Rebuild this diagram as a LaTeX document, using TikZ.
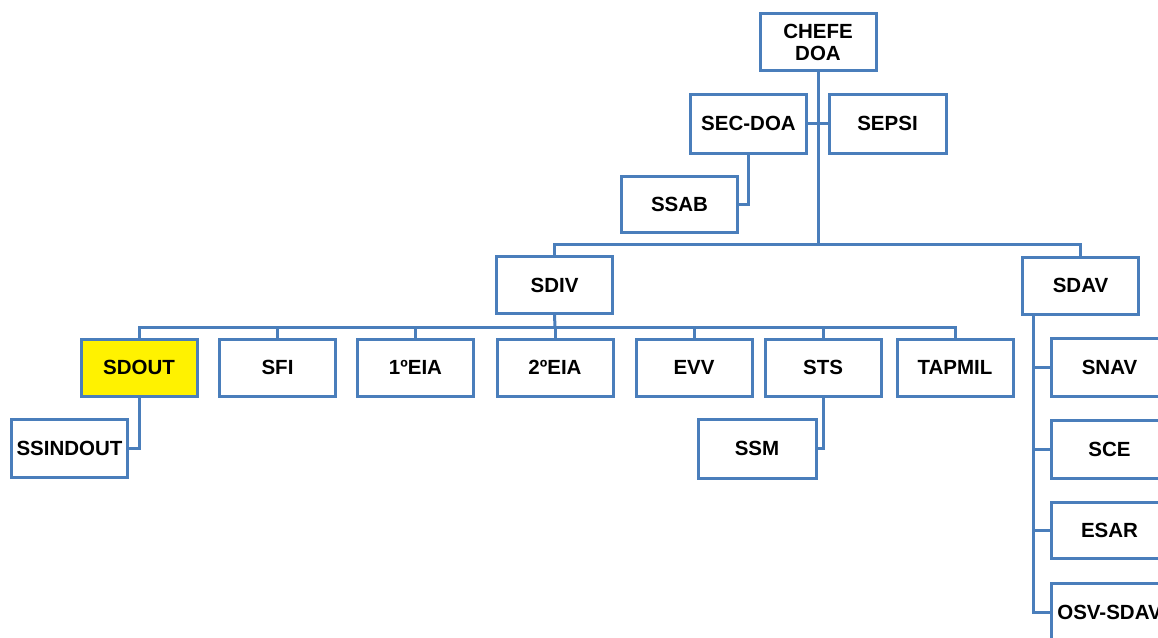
\documentclass[tikz,border=0pt]{standalone}
\usepackage{fontspec}
\setmainfont{Liberation Sans}
\usetikzlibrary{calc}
\definecolor{orgline}{HTML}{4A7EBB}
\definecolor{orgyellow}{HTML}{FFF200}
\tikzset{
  unit/.style={draw=orgline, line width=3pt, fill=white, minimum width=116pt,
    minimum height=57pt, inner sep=0pt, align=center,
    font=\fontsize{20.5}{22}\selectfont\bfseries},
  link/.style={draw=orgline, line width=3pt}
}
\begin{document}
\begin{tikzpicture}[x=1pt,y=-1pt]
\useasboundingbox (0,0) rectangle (1158,637);
\clip (0,0) rectangle (1158,637);

% top level
\node[unit] (chefe) at (818,42) {CHEFE\\DOA};
\node[unit, minimum height=59pt] (secdoa) at (748.5,123.5) {SEC-DOA};
\node[unit, minimum height=59pt, minimum width=117pt] (sepsi) at (887.5,123.5) {SEPSI};
\node[unit, minimum height=56pt] (ssab) at (679.5,204) {SSAB};

% divisions
\node[unit] (sdiv) at (554.5,285) {SDIV};
\node[unit] (sdav) at (1080.5,285.5) {SDAV};

% SDIV sections
\node[unit, fill=orgyellow] (sdout) at (139,367.5) {SDOUT};
\node[unit] (sfi) at (277.5,367.5) {SFI};
\node[unit] (eia1) at (415.5,367.5) {1ºEIA};
\node[unit] (eia2) at (555,367.5) {2ºEIA};
\node[unit] (evv) at (694,367.5) {EVV};
\node[unit] (sts) at (823,367.5) {STS};
\node[unit] (tapmil) at (955,367.5) {TAPMIL};
\node[unit, minimum height=58pt] (ssindout) at (69.5,448) {SSINDOUT};
\node[unit, minimum width=118pt, minimum height=59pt] (ssm) at (757,448.5) {SSM};

% SDAV sections
\node[unit, minimum height=58pt] (snav) at (1109.5,367) {SNAV};
\node[unit, minimum height=58pt] (sce) at (1109.5,449) {SCE};
\node[unit, minimum height=56pt] (esar) at (1109.5,530) {ESAR};
\node[unit, minimum height=58pt] (osv) at (1109.5,612) {OSV-SDAV};

% buses and rails
\coordinate (topbus) at (818,244);
\coordinate (midbus) at (555,327);
\coordinate (rail) at ($(sdav.south west)+(12,0)$);

% connectors
\draw[link] (chefe.south) -- (topbus);
\draw[link] (secdoa.east) -- (secdoa.east -| topbus);
\draw[link] (sepsi.west) -- (sepsi.west -| topbus);
\draw[link] (secdoa.south) |- (ssab.east);
\draw[link] (sdiv.north) |- (topbus) -| (sdav.north);
\draw[link] (sdiv.south) -- (midbus);
\draw[link] (sdout.north) |- (midbus) -| (tapmil.north);
\foreach \n in {sfi,eia1,eia2,evv,sts}
  \draw[link] (\n.north) -- (\n.north |- midbus);
\draw[link] (sdout.south) |- (ssindout.east);
\draw[link] (sts.south) |- (ssm.east);
\draw[link] (rail) |- (osv.west);
\foreach \n in {snav,sce,esar}
  \draw[link] (rail |- \n.west) -- (\n.west);
\end{tikzpicture}
\end{document}
